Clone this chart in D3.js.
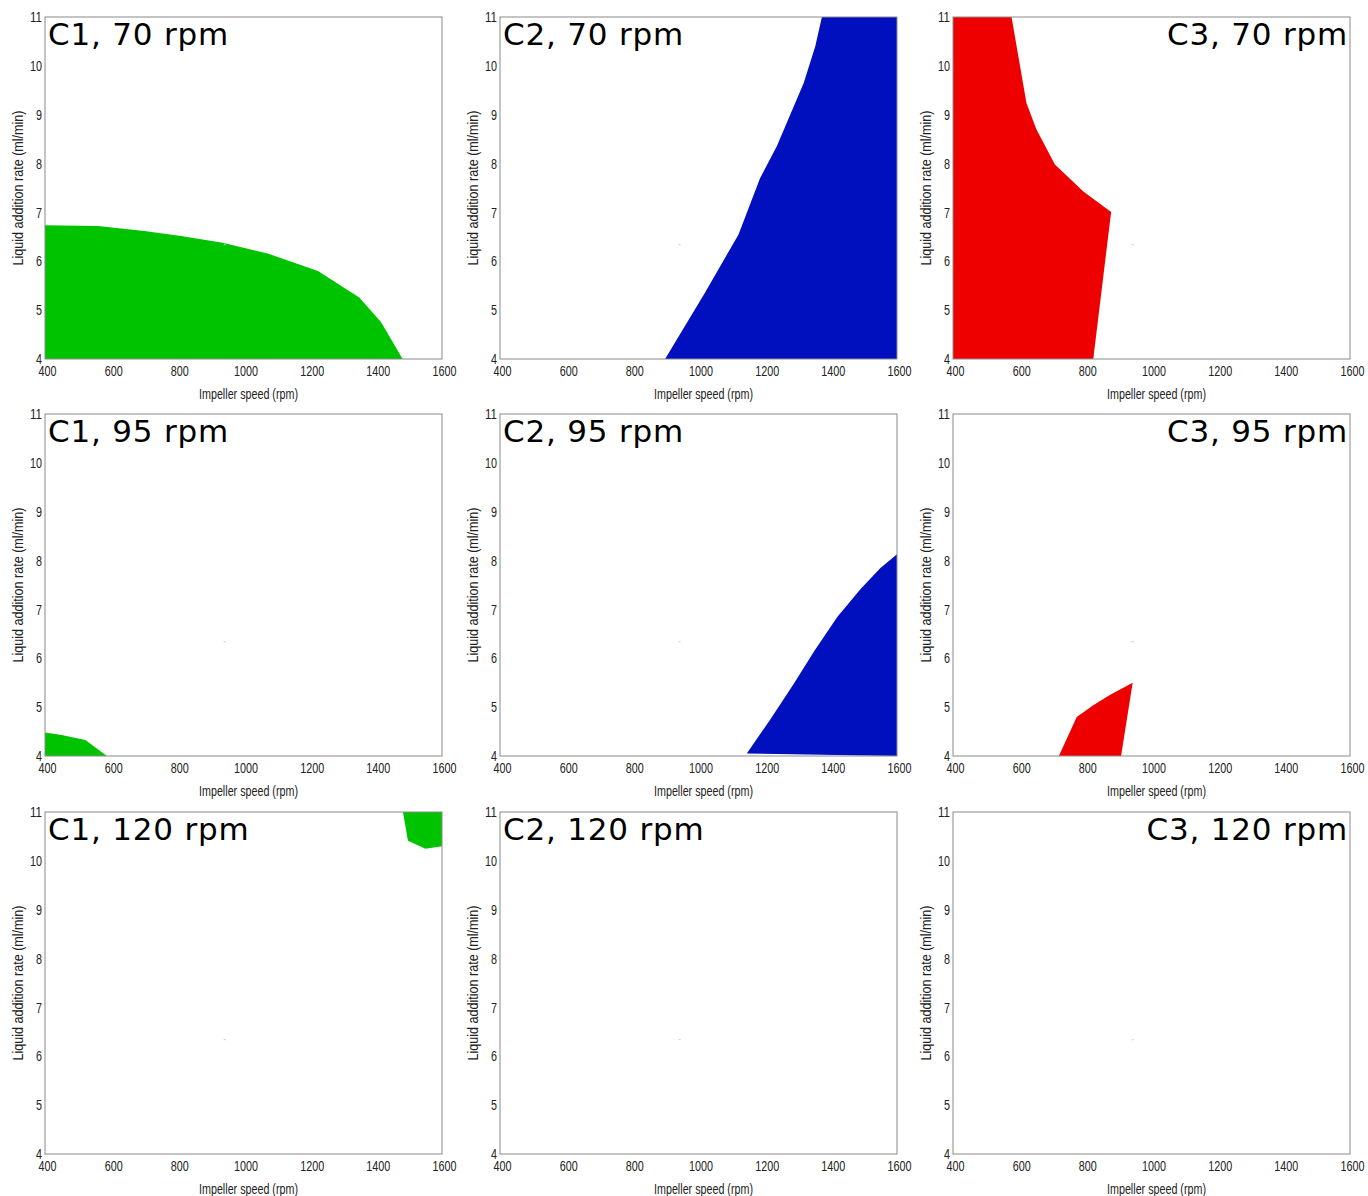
<!DOCTYPE html>
<html>
<head>
<meta charset="utf-8">
<script src="https://cdn.jsdelivr.net/npm/d3@7"></script>
<style>
  body { margin: 0; background: #fff; }
  svg { display: block; }
  .tick text { font-family: "Liberation Sans Narrow", "Arial Narrow", "Liberation Sans", sans-serif; font-size: 14.5px; fill: #222; }
  .lab { font-family: "Liberation Sans Narrow", "Arial Narrow", "Liberation Sans", sans-serif; font-size: 14px; fill: #222; }
  .ttl { font-family: "DejaVu Sans", Verdana, sans-serif; font-size: 31px; letter-spacing: 0.8px; fill: #000; }
</style>
</head>
<body>
<script>
const columns = ['C1', 'C2', 'C3'];
const speeds = ['70 rpm', '95 rpm', '120 rpm'];
const colors = ['#00c300', '#0010bf', '#ee0000'];
const xTicks = [400, 600, 800, 1000, 1200, 1400, 1600];
const yTicks = [4, 5, 6, 7, 8, 9, 10, 11];

// design-space regions, [impeller speed, liquid addition rate]
const c1_70 = [[400, 4], [400, 6.74], [560, 6.72], [700, 6.62], [811, 6.52], [937, 6.38], [1073, 6.16], [1225, 5.8], [1350, 5.26], [1416, 4.75], [1481, 4]];
const c2_70 = [[899, 4], [1020, 5.36], [1121, 6.55], [1186, 7.7], [1237, 8.36], [1318, 9.65], [1353, 10.4], [1373, 11], [1600, 11], [1600, 4]];
const c3_70 = [[400, 4], [400, 11], [577, 11], [622, 9.24], [652, 8.7], [708, 7.98], [794, 7.43], [878, 7.01], [824, 4]];
const c1_95 = [[400, 4], [400, 4.48], [450, 4.43], [522, 4.33], [587, 4]];
const c2_95 = [[1146, 4.05], [1220, 4.78], [1290, 5.5], [1350, 6.15], [1420, 6.85], [1490, 7.42], [1550, 7.85], [1600, 8.13], [1600, 4]];
const c3_95 = [[720, 4], [774, 4.8], [824, 5.04], [874, 5.25], [943, 5.5], [908, 4]];
const c1_120 = [[1482, 11], [1497, 10.41], [1550, 10.25], [1600, 10.3], [1600, 11]];
const c2_120 = [];
const c3_120 = [];
const regions = [
  [c1_70, c2_70, c3_70],
  [c1_95, c2_95, c3_95],
  [c1_120, c2_120, c3_120]
];
const speck = [940, 6.35];

const W = 1368, H = 1196;
const colX = [45, 500, 953];
const rowY = [17, 414, 812];
const pw = 397, ph = 342;

const svg = d3.select('body').append('svg')
  .attr('width', W)
  .attr('height', H);

const x = d3.scaleLinear().domain([400, 1600]).range([0, pw]);
const y = d3.scaleLinear().domain([4, 11]).range([ph, 0]);
const line = d3.line().x(d => x(d[0])).y(d => y(d[1]));
const fmt = d3.format('d');

// squeeze labels to look like a narrow face
const narrow = sel => sel
  .attr('textLength', d => fmt(d).length * 6)
  .attr('lengthAdjust', 'spacingAndGlyphs');

speeds.forEach((sp, r) => {
  columns.forEach((c, ci) => {
    const g = svg.append('g').attr('transform', `translate(${colX[ci]},${rowY[r]})`);

    g.append('rect')
      .attr('width', pw)
      .attr('height', ph)
      .attr('fill', '#fff');

    const pts = regions[r][ci];
    if (pts.length)
      g.append('path')
        .attr('d', line(pts) + 'Z')
        .attr('fill', colors[ci]);

    g.append('rect')
      .attr('x', x(speck[0]))
      .attr('y', y(speck[1]))
      .attr('width', 2)
      .attr('height', 1)
      .attr('fill', '#ccc');

    g.append('rect')
      .attr('width', pw)
      .attr('height', ph)
      .attr('fill', 'none')
      .attr('stroke', '#8a8a8a')
      .attr('stroke-width', 1);

    const xa = g.append('g')
      .attr('transform', `translate(2,${ph})`)
      .call(d3.axisBottom(x).tickValues(xTicks).tickFormat(fmt).tickSize(0).tickPadding(7));
    xa.select('.domain').remove();
    xa.selectAll('text').call(narrow);

    const ya = g.append('g')
      .call(d3.axisLeft(y).tickValues(yTicks).tickFormat(fmt).tickSize(0).tickPadding(3));
    ya.select('.domain').remove();
    ya.selectAll('text').call(narrow);

    g.append('text')
      .attr('class', 'lab')
      .attr('x', pw / 2 + 5)
      .attr('y', ph + 40)
      .attr('text-anchor', 'middle')
      .attr('textLength', 99)
      .attr('lengthAdjust', 'spacingAndGlyphs')
      .text('Impeller speed (rpm)');

    g.append('text')
      .attr('class', 'lab')
      .attr('transform', `translate(-22,${ph / 2}) rotate(-90)`)
      .attr('text-anchor', 'middle')
      .attr('textLength', 155)
      .attr('lengthAdjust', 'spacingAndGlyphs')
      .text('Liquid addition rate (ml/min)');

    const right = ci === 2;
    g.append('text')
      .attr('class', 'ttl')
      .attr('x', right ? pw - 2 : 3)
      .attr('y', 28)
      .attr('text-anchor', right ? 'end' : 'start')
      .text(`${c}, ${sp}`);
  });
});
</script>
</body>
</html>
